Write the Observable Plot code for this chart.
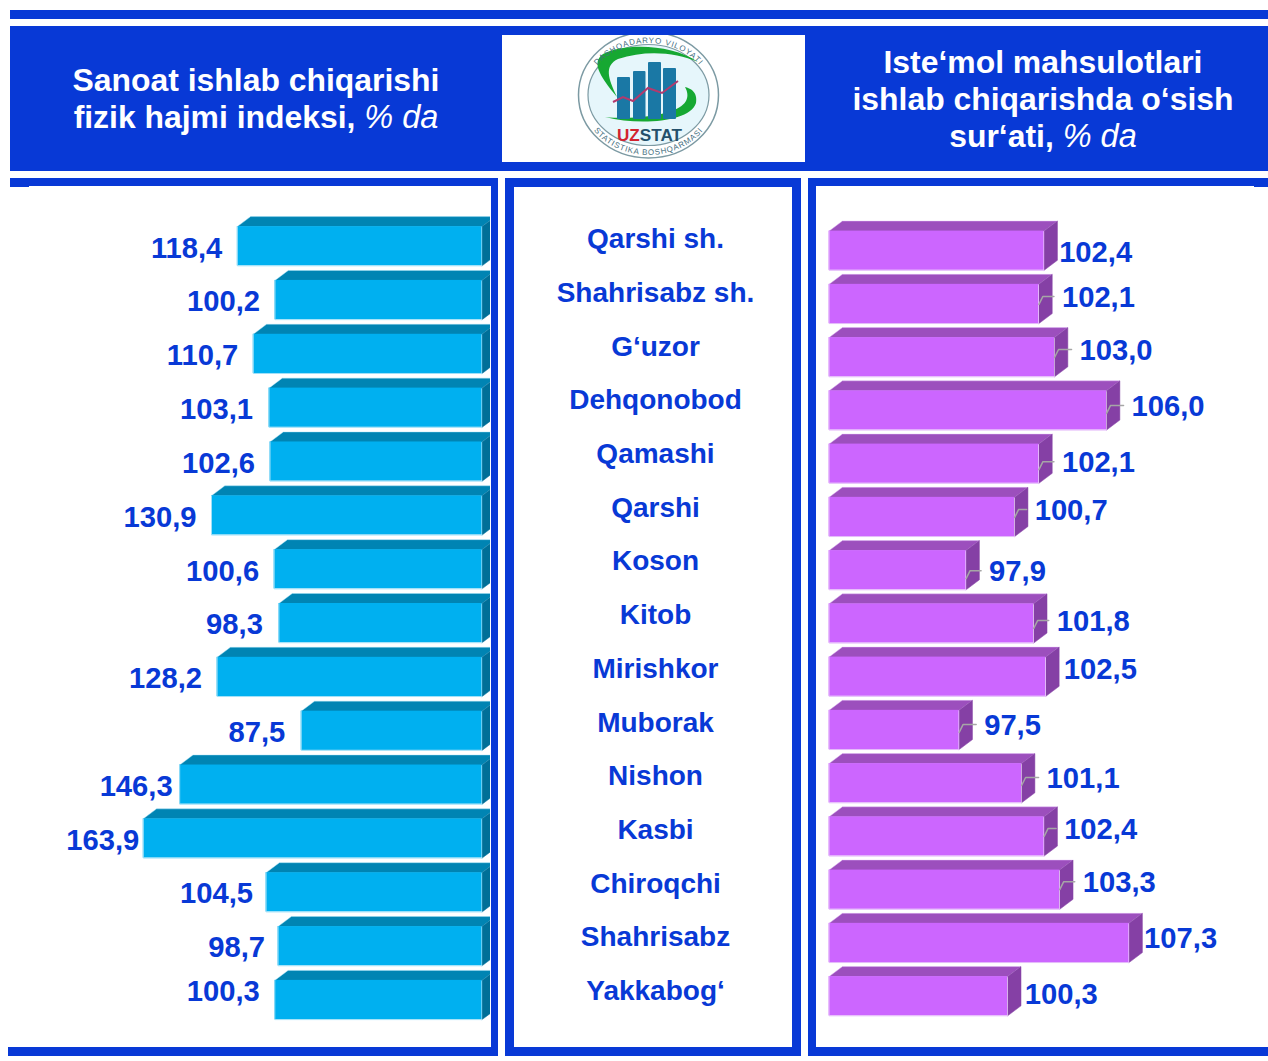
<!DOCTYPE html>
<html lang="uz">
<head>
<meta charset="utf-8">
<title>Sanoat va iste'mol mahsulotlari</title>
<script src="https://cdn.jsdelivr.net/npm/d3@7"></script>
<script src="https://cdn.jsdelivr.net/npm/@observablehq/plot@0.6"></script>
<style>
  html,body{margin:0;padding:0;background:#fff;}
  body{position:relative;width:1268px;height:1061px;overflow:hidden;font-family:"Liberation Sans",Arial,sans-serif;}
  .b{position:absolute;background:#0839D6;}
  .w{position:absolute;background:#fff;}
  .hd{position:absolute;color:#fff;font-weight:bold;font-size:31.9px;line-height:37px;text-align:center;white-space:nowrap;}
  .hd i{font-weight:normal;font-size:32.5px;}
  .plotbox{position:absolute;top:0;}
  .plotbox svg{display:block;overflow:hidden;}
  #logo{position:absolute;left:502px;top:35px;}
</style>
</head>
<body>
<div class="b" style="left:10px;top:10px;width:1258px;height:9px"></div>
<div class="b" style="left:10px;top:26px;width:1258px;height:145px"></div>
<div class="w" style="left:502px;top:35px;width:303px;height:127px"></div>

<div class="hd" style="left:10px;width:492px;top:62px">Sanoat ishlab chiqarishi<br>fizik hajmi indeksi, <i>% da</i></div>
<div class="hd" style="left:805px;width:476px;top:44px">Iste‘mol mahsulotlari<br>ishlab chiqarishda o‘sish<br>sur‘ati, <i>% da</i></div>

<!-- left frame -->
<div class="b" style="left:10px;top:178px;width:488px;height:8px"></div>
<div class="b" style="left:10px;top:186px;width:19px;height:1px"></div>
<div class="b" style="left:491px;top:178px;width:7px;height:878px"></div>
<div class="b" style="left:8px;top:1047px;width:490px;height:9px"></div>
<!-- middle frame -->
<div class="b" style="left:505px;top:178px;width:296px;height:9px"></div>
<div class="b" style="left:505px;top:178px;width:9px;height:878px"></div>
<div class="b" style="left:792px;top:178px;width:9px;height:878px"></div>
<div class="b" style="left:505px;top:1047px;width:296px;height:9px"></div>
<!-- right frame -->
<div class="b" style="left:808px;top:178px;width:460px;height:8px"></div>
<div class="b" style="left:1254px;top:186px;width:14px;height:1px"></div>
<div class="b" style="left:808px;top:178px;width:8px;height:878px"></div>
<div class="b" style="left:808px;top:1047px;width:460px;height:9px"></div>

<svg id="logo" width="303" height="127" viewBox="502 35 303 127" font-family="'Liberation Sans',Arial,sans-serif">
  <defs>
    <path id="arcTop" d="M586.5 95 A62 52 0 0 1 710.5 95"/>
    <path id="arcBot" d="M580.5 95 A68 60 0 0 0 716.5 95"/>
  </defs>
  <ellipse cx="648.5" cy="95" rx="70" ry="63" fill="#fff" stroke="#7c9aa3" stroke-width="1.5"/>
  <ellipse cx="648.5" cy="95" rx="60.5" ry="50.5" fill="#E6F6FB" stroke="#7c9aa3" stroke-width="1.2"/>
  <path d="M698 62 C 672 44 625 43 603 54 C 592 62 598 74 617 97 C 608 78 604 66 618 59 C 645 50 675 52 698 62 Z" fill="#16A832"/>
  <path d="M605 117 C 640 126 690 122 696 103 C 698 92 690 88 685 87 C 690 96 688 105 672 111 C 650 118 625 119 605 117 Z" fill="#16A832"/>
  <g fill="#1A78A5">
    <rect x="617" y="77" width="13" height="42" rx="1"/>
    <rect x="633" y="71" width="12.5" height="48" rx="1"/>
    <rect x="648" y="62" width="13" height="57" rx="1"/>
    <rect x="663" y="68" width="13" height="51" rx="1"/>
  </g>
  <polyline points="613,102 623,97 633,101 648,88 662,93 678,81" fill="none" stroke="#B23A6E" stroke-width="2"/>
  <text x="617" y="141" font-size="16" font-weight="bold" fill="#D2232F" textLength="65" lengthAdjust="spacingAndGlyphs">UZ<tspan fill="#24506B">STAT</tspan></text>
  <text font-size="8" fill="#46707F" letter-spacing="0.8"><textPath href="#arcTop" startOffset="50%" text-anchor="middle">DASHQADARYO VILOYATI</textPath></text>
  <text font-size="8" fill="#46707F" letter-spacing="0.8"><textPath href="#arcBot" startOffset="50%" text-anchor="middle">STATISTIKA BOSHQARMASI</textPath></text>
</svg>

<div id="pL" class="plotbox" style="left:0"></div>
<div id="pM" class="plotbox" style="left:505px"></div>
<div id="pR" class="plotbox" style="left:0"></div>

<script>
const districts = ["Qarshi sh.","Shahrisabz sh.","G‘uzor","Dehqonobod","Qamashi","Qarshi","Koson","Kitob","Mirishkor","Muborak","Nishon","Kasbi","Chiroqchi","Shahrisabz","Yakkabog‘"];
const industrial = [118.4,100.2,110.7,103.1,102.6,130.9,100.6,98.3,128.2,87.5,146.3,163.9,104.5,98.7,100.3];
const consumer = [102.4,102.1,103.0,106.0,102.1,100.7,97.9,101.8,102.5,97.5,101.1,102.4,103.3,107.3,100.3];

// hand-placed label offsets of the original slide, in pixels
const leftLabelGap = [15,15,15,16,15,15,15,16,15,16,7,4,13,13,15];
const leftLabelShift = [2,2,2,2,2,2,2,2,2,2,2,2,1.5,1.5,-8.5];
const rightLabelGap = [15,23,25,25,23,20,23,23,18,25,25,20,23,15,17];
const rightLabelShift = [2,-6.5,-6.7,-4,-1,-6.5,1.5,-2,-7,-4.5,-4.7,-7,-7,-4.5,-1.5];
const hasLeader = [false,true,true,true,true,true,true,true,false,true,true,true,true,false,false];

const BLUE = "#0839D6";
const FONT = "'Liberation Sans',Arial,sans-serif";
const fmt = v => v.toFixed(1).replace(".", ",");
const rows = districts.map((_, i) => i);

// --- scales ---
const L = {domain:[0,163.9], range:[481.6,142.8], yRange:[245.7,999.5]};
const R = {domain:[90,107.3], range:[828.6,1128.6], yRange:[250.2,995.7]};
const pxX = s => Math.abs(s.range[1]-s.range[0])/(s.domain[1]-s.domain[0]);
const pxY = s => (s.yRange[1]-s.yRange[0])/14;

// A 3-D looking bar: front rectangle + top & side parallelograms, in data units.
function bars(values, s, dir, colors) {
  const dx = 13.3/pxX(s)*dir, dy = 10/pxY(s), h = 19.6/pxY(s);
  const base = s.domain[0];
  const top = [], side = [], edge = [];
  values.forEach((v,i) => {
    top.push({i,x:v,y:i-h},{i,x:v+dx,y:i-h-dy},{i,x:base+dx,y:i-h-dy},{i,x:base,y:i-h});
    const e = dir > 0 ? v : base;
    side.push({i,x:e,y:i-h},{i,x:e+dx,y:i-h-dy},{i,x:e+dx,y:i+h-dy},{i,x:e,y:i+h});
    const outer = dir > 0 ? base : v, inner = dir > 0 ? v : base;
    edge.push({i,x:outer,y:i-h},{i,x:outer,y:i+h},{i,x:inner,y:i+h});
  });
  const front = values.map((v,i)=>({i,x1:base,x2:v,y1:i-h,y2:i+h}));
  return [
    Plot.line(top,{x:"x",y:"y",z:"i",fill:colors.top,stroke:colors.edge,strokeWidth:0.8,strokeOpacity:0.55}),
    Plot.line(side,{x:"x",y:"y",z:"i",fill:colors.side,stroke:colors.side,strokeWidth:0.5}),
    Plot.rect(front,{x1:"x1",x2:"x2",y1:"y1",y2:"y2",fill:colors.front}),
    Plot.line(edge,{x:"x",y:"y",z:"i",stroke:colors.edge,strokeWidth:1})
  ];
}
const textStyle = {fill:BLUE,fontSize:29.2,fontWeight:"bold",fontFamily:FONT};

// --- left panel ---
document.getElementById("pL").append(Plot.plot({
  width:490,height:1061,margin:0,
  style:{background:"transparent"},
  x:{domain:L.domain,range:L.range,axis:null},
  y:{domain:[0,14],range:L.yRange,axis:null},
  marks:[
    ...bars(industrial,L,-1,{front:"#00B0F0",top:"#0084B3",side:"#006F98",edge:"#9FE0F8"}),
    Plot.text(rows,{
      x:i=>industrial[i]+leftLabelGap[i]/pxX(L),
      y:i=>i+leftLabelShift[i]/pxY(L),
      text:i=>fmt(industrial[i]),textAnchor:"end",...textStyle})
  ]
}));

// --- middle panel ---
document.getElementById("pM").append(Plot.plot({
  width:300,height:1061,margin:0,
  style:{background:"transparent"},
  x:{axis:null},
  y:{domain:[0,14],range:[238.7,990.7],axis:null},
  marks:[
    Plot.text(districts,{y:(d,i)=>i,text:d=>d,frameAnchor:"middle",fill:BLUE,fontSize:28,fontWeight:"bold",fontFamily:FONT})
  ]
}));

// --- right panel ---
const labelX = i => consumer[i]+rightLabelGap[i]/pxX(R);
const labelY = i => i+rightLabelShift[i]/pxY(R);
const leaders = rows.filter(i=>hasLeader[i]).flatMap(i=>[
  {i,x:consumer[i],y:labelY(i)+7/pxY(R)},
  {i,x:consumer[i]+4/pxX(R),y:labelY(i)-1/pxY(R)},
  {i,x:labelX(i)-8/pxX(R),y:labelY(i)-1/pxY(R)}
]);
document.getElementById("pR").append(Plot.plot({
  width:1268,height:1061,margin:0,
  style:{background:"transparent"},
  x:{domain:R.domain,range:R.range,axis:null},
  y:{domain:[0,14],range:R.yRange,axis:null},
  marks:[
    ...bars(consumer,R,1,{front:"#CC66FF",top:"#9C4FBD",side:"#8540A5",edge:"#E3B8FA"}),
    Plot.line(leaders,{x:"x",y:"y",z:"i",stroke:"#A6A6A6",strokeWidth:1.5}),
    Plot.text(rows,{x:labelX,y:labelY,text:i=>fmt(consumer[i]),textAnchor:"start",...textStyle})
  ]
}));
</script>
</body>
</html>
